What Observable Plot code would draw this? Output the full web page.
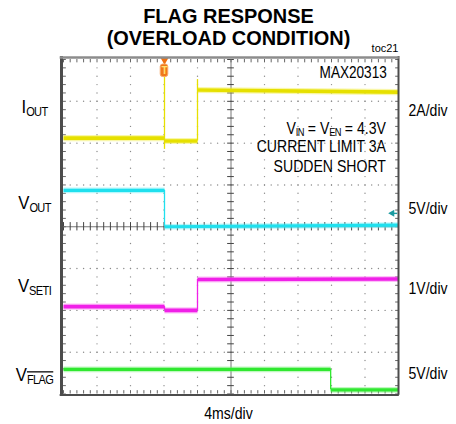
<!DOCTYPE html>
<html>
<head>
<meta charset="utf-8">
<script src="https://cdn.jsdelivr.net/npm/d3@7"></script>
<script src="https://cdn.jsdelivr.net/npm/@observablehq/plot@0.6"></script>
<style>
  html, body { margin: 0; padding: 0; background: #fff; }
  #chart svg { display: block; }
</style>
</head>
<body>
<div id="chart"></div>
<script>
// ---------------- DATA (time in ms at 4 ms/div, amplitude in screen divisions) ----------------
const titleLines = ["FLAG RESPONSE", "(OVERLOAD CONDITION)"];
const figureId = "toc21";
const partNumber = "MAX20313";
const conditionLines = ["V_{IN} = V_{EN} = 4.3V", "CURRENT LIMIT 3A", "SUDDEN SHORT"];
const channelLabels = ["I_{OUT}", "V_{OUT}", "V_{SETI}", "V_{~FLAG}"];
const channelScales = ["2A/div", "5V/div", "1V/div", "5V/div"];
const timebase = "4ms/div";

// I_OUT (yellow)
const ioutBreaks = [0, 12.06, 16.0, 40];
const ioutStart  = [2.12, 2.05, 3.27];
const ioutEnd    = [2.12, 2.05, 3.22];
const ioutSpikeHigh = [3.93, 3.52];
const ioutSpikeLow  = [1.85, 2.05];

// V_OUT (cyan)
const voutBreaks = [0, 12.06, 40];
const voutStart  = [0.87, 0.0];
const voutEnd    = [0.87, 0.04];

// V_SETI (magenta)
const vsetiBreaks = [0, 12.06, 16.0, 40];
const vsetiStart  = [-1.91, -2.0, -1.26];
const vsetiEnd    = [-1.91, -2.0, -1.25];

// V_FLAG (green)
const vflagBreaks = [0, 31.9, 40];
const vflagStart  = [-3.41, -3.9];
const vflagEnd    = [-3.41, -3.9];

const triggerMs = 12.06;
const ch2RefLevel = 0.32;
const ch2RefMs = 39.25;

// ---------------- helpers ----------------
function segments(breaks, start, end) {
  return start.map((v, i) => ({x1: breaks[i], x2: breaks[i + 1], y1: v, y2: end[i]}));
}
function transitions(breaks, start, end, hi, lo) {
  const out = [];
  for (let i = 1; i < start.length; i++) {
    let a = Math.min(end[i - 1], start[i]), b = Math.max(end[i - 1], start[i]);
    if (hi) { b = Math.max(b, hi[i - 1]); a = Math.min(a, lo[i - 1]); }
    out.push({x: breaks[i], y1: a, y2: b});
  }
  return out;
}
function trace(segs, trans, core, halo, w) {
  return [
    Plot.link(segs, {x1: "x1", x2: "x2", y1: "y1", y2: "y2", stroke: halo, strokeWidth: w + 2.5, strokeOpacity: 0.45}),
    Plot.link(segs, {x1: "x1", x2: "x2", y1: "y1", y2: "y2", stroke: core, strokeWidth: w}),
    Plot.ruleX(trans, {x: "x", y1: "y1", y2: "y2", stroke: core, strokeWidth: 1.3})
  ];
}

// grid construction (5 minor subdivisions per division)
const minorX = d3.range(0, 51).map(i => i * 0.8);
const minorY = d3.range(0, 41).map(i => -4 + i * 0.2);
const majorX = d3.range(1, 10).map(i => i * 4).filter(x => x !== 20);
const majorY = [-3, -2, -1, 1, 2, 3];
const gridDots = [];
for (const x of majorX) for (const y of minorY.slice(1, -1)) gridDots.push({x, y});
for (const y of majorY) for (const x of minorX.slice(1, -1)) gridDots.push({x, y});

const FONT = "'Liberation Sans', Arial, Helvetica, sans-serif";

const chart = Plot.plot({
  width: 456,
  height: 424,
  marginLeft: 63,
  marginRight: 58,
  marginTop: 59,
  marginBottom: 30.5,
  x: {domain: [0, 40], axis: null},
  y: {domain: [-4, 4], axis: null},
  style: {fontFamily: FONT, background: "#fff", overflow: "visible"},
  marks: [
    // dotted graticule
    Plot.dot(gridDots, {x: "x", y: "y", r: 0.7, fill: "#8a8a8a", stroke: null}),
    // centre cross with minor ticks
    Plot.ruleY([0], {stroke: "#777", strokeWidth: 1}),
    Plot.ruleX([20], {stroke: "#777", strokeWidth: 1}),
    Plot.ruleX(minorX, {x: d => d, y1: -0.1, y2: 0.1, stroke: "#444", strokeWidth: 1}),
    Plot.ruleY(minorY, {y: d => d, x1: 19.6, x2: 20.4, stroke: "#444", strokeWidth: 1}),
    // edge ticks
    Plot.ruleX(minorX, {x: d => d, y1: 3.92, y2: 4, stroke: "#666", strokeWidth: 1}),
    Plot.ruleX(minorX, {x: d => d, y1: -4, y2: -3.92, stroke: "#666", strokeWidth: 1}),
    Plot.ruleY(minorY, {y: d => d, x1: 0, x2: 0.34, stroke: "#666", strokeWidth: 1}),
    Plot.ruleY(minorY, {y: d => d, x1: 39.66, x2: 40, stroke: "#666", strokeWidth: 1}),

    // traces
    ...trace(segments(ioutBreaks, ioutStart, ioutEnd), transitions(ioutBreaks, ioutStart, ioutEnd, ioutSpikeHigh, ioutSpikeLow), "#e6e000", "#f2ee40", 3.6),
    ...trace(segments(voutBreaks, voutStart, voutEnd), transitions(voutBreaks, voutStart, voutEnd), "#1fe0ee", "#60eef6", 3.2),
    ...trace(segments(vsetiBreaks, vsetiStart, vsetiEnd), transitions(vsetiBreaks, vsetiStart, vsetiEnd), "#f020e8", "#f870f0", 3.6),
    ...trace(segments(vflagBreaks, vflagStart, vflagEnd), transitions(vflagBreaks, vflagStart, vflagEnd), "#30e830", "#70f070", 3.2),

    // trigger marker
    Plot.dot([triggerMs], {x: d => d, y: 3.988, symbol: "triangle", rotate: 180, r: 3, fill: "#f07010", stroke: null}),
    Plot.rect([triggerMs], {x1: d => d - 0.45, x2: d => d + 0.45, y1: 3.58, y2: 3.88, rx: 2.5, fill: "#f07818", stroke: "#f8a868", strokeWidth: 1}),
    Plot.text([triggerMs], {x: d => d, y: 3.73, text: () => "T", fontSize: 10, fontWeight: "bold", fill: "#ffe070", lineAnchor: "middle"}),

    // channel-2 reference marker
    Plot.dot([ch2RefMs], {x: d => d, y: ch2RefLevel, symbol: "triangle", rotate: -90, r: 2.6, fill: "#1a9aa0", stroke: null}),
    Plot.link([ch2RefMs], {x1: d => d + 0.2, x2: d => d + 0.6, y1: ch2RefLevel, y2: ch2RefLevel, stroke: "#1a9aa0", strokeWidth: 1.4}),

    // frame
    Plot.ruleX([0], {x: d => d, y1: 4.07, y2: -4.03, dx: -2, stroke: "#4c4c4c", strokeWidth: 3}),
    Plot.ruleX([40], {x: d => d, y1: 4.07, y2: -4.03, stroke: "#4c4c4c", strokeWidth: 2}),
    Plot.ruleY([4], {y: d => d, x1: -0.4, x2: 40.1, dy: -2, stroke: "#8c8c8c", strokeWidth: 2.5}),
    Plot.ruleY([-4], {y: d => d, x1: -0.4, x2: 40.1, dy: 1, stroke: "#4c4c4c", strokeWidth: 2}),

    // title
    Plot.text(titleLines, {x: 19.7, y: (d, i) => [4.861, 4.335][i], text: d => d, fontSize: 21, fontWeight: "bold", fill: "#000", lineAnchor: "bottom", textAnchor: "middle"}),
    Plot.text([figureId], {x: 40, y: 4.191, text: d => d, fontSize: 11, fill: "#000", lineAnchor: "bottom", textAnchor: "end"}),

    // annotations inside the screen
    Plot.text([partNumber], {x: 38.6, y: 3.546, text: d => d, fontSize: 16, fill: "#000", lineAnchor: "bottom", textAnchor: "end"}),
    Plot.text(conditionLines, {x: 38.5, y: (d, i) => [2.223, 1.783, 1.305][i], text: d => d, fontSize: 16, fill: "#000", lineAnchor: "bottom", textAnchor: "end"}),

    // channel labels (left) and scales (right)
    Plot.text(channelLabels, {x: -3.46, y: (d, i) => [2.709, 0.413, -1.565, -3.701][i], text: d => d, fontSize: 19, fill: "#000", lineAnchor: "bottom", textAnchor: "middle"}),
    Plot.text(channelScales, {x: 41.19, y: (d, i) => [2.644, 0.293, -1.62, -3.653][i], text: d => d, fontSize: 16, fill: "#000", lineAnchor: "bottom", textAnchor: "start"}),

    // timebase
    Plot.text([timebase], {x: 19.7, y: -4.586, text: d => d, fontSize: 16, fill: "#000", lineAnchor: "bottom", textAnchor: "middle"})
  ]
});

document.getElementById("chart").append(chart);

// ---- typographic post-processing: subscripts, overline, condensed letterforms ----
const SVGNS = "http://www.w3.org/2000/svg";
function richify(el) {
  const s = el.textContent;
  if (!s.includes("_{")) return;
  const fs = parseFloat(getComputedStyle(el).fontSize) || 16;
  const shift = (fs * 0.13).toFixed(2);
  const parts = s.split(/(_\{[^}]*\})/).filter(p => p);
  el.textContent = "";
  let down = false;
  for (const p of parts) {
    const t = document.createElementNS(SVGNS, "tspan");
    if (p.startsWith("_{")) {
      let c = p.slice(2, -1);
      if (c.startsWith("~")) { c = c.slice(1); t.setAttribute("text-decoration", "overline"); t.style.textDecoration = "overline"; }
      t.textContent = c;
      t.setAttribute("font-size", (fs * 0.66).toFixed(2));
      t.setAttribute("letter-spacing", "-0.7");
      t.setAttribute("dy", shift);
      down = true;
    } else {
      t.textContent = p;
      if (down) { t.setAttribute("dy", -shift); down = false; }
    }
    el.appendChild(t);
  }
}
chart.querySelectorAll("text").forEach(el => {
  const s = el.textContent;
  let sx = 0.88;
  if (titleLines.includes(s)) sx = 0.95;
  else if (s === figureId || s === "T") sx = 1;
  else if (channelLabels.includes(s)) sx = 0.88;
  else if (s === partNumber) sx = 0.85;
  richify(el);
  if (sx !== 1) {
    const tr = el.getAttribute("transform");
    if (tr) el.setAttribute("transform", tr + ` scale(${sx},1)`);
  }
});
</script>
</body>
</html>
